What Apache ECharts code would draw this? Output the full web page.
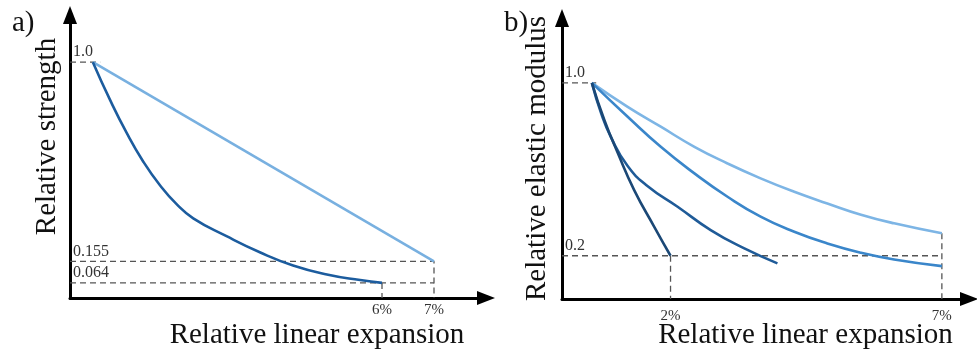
<!DOCTYPE html>
<html>
<head>
<meta charset="utf-8">
<script src="https://cdn.jsdelivr.net/npm/echarts@6/dist/echarts.min.js"></script>
<style>
  html, body { margin: 0; padding: 0; background: #fff; }
  #chart { width: 977px; height: 354px; }
</style>
</head>
<body>
<div id="chart"></div>
<script>
// Panel a) relative strength vs. relative linear expansion (%)
const strengthLightX = [0.44, 7.0];
const strengthLightY = [1.0, 0.155];
const strengthDarkX = [0.44, 0.77, 1.09, 1.41, 1.73, 2.05, 2.37, 3.01, 3.65, 4.29, 4.94, 5.58, 6.0];
const strengthDarkY = [1.0, 0.84, 0.70, 0.578, 0.478, 0.398, 0.338, 0.262, 0.194, 0.138, 0.10, 0.076, 0.064];
const strengthTicksY = [1.0, 0.155, 0.064];
const strengthTicksX = [6, 7];

// Panel b) relative elastic modulus vs. relative linear expansion (%)
const modulus1X = [0.55, 0.78, 1.03, 1.33, 1.70, 2.0];
const modulus1Y = [1.0, 0.828, 0.674, 0.504, 0.334, 0.2];
const modulus2X = [0.55, 0.72, 0.90, 1.21, 1.58, 2.13, 2.74, 3.36, 3.97];
const modulus2Y = [1.0, 0.86, 0.75, 0.615, 0.522, 0.427, 0.319, 0.234, 0.165];
const modulus3X = [0.55, 1.21, 1.82, 2.44, 3.05, 3.66, 4.28, 4.89, 5.51, 6.12, 7.0];
const modulus3Y = [1.0, 0.843, 0.704, 0.581, 0.473, 0.381, 0.311, 0.257, 0.214, 0.183, 0.152];
const modulus4X = [0.55, 1.21, 1.82, 2.44, 3.05, 3.66, 4.28, 4.89, 5.51, 6.12, 7.0];
const modulus4Y = [1.0, 0.889, 0.797, 0.704, 0.627, 0.558, 0.496, 0.442, 0.390, 0.350, 0.304];
const modulusTicksY = [1.0, 0.2];
const modulusTicksX = [2, 7];

const SERIF = '"Liberation Serif", "DejaVu Serif", serif';
const zip = (xs, ys) => xs.map((x, i) => [x, ys[i]]);
const last = arr => arr[arr.length - 1];

function curve(xi, yi, xs, ys, color) {
  return {
    type: 'line', xAxisIndex: xi, yAxisIndex: yi,
    data: zip(xs, ys), smooth: 0.5,
    showSymbol: false, silent: true,
    lineStyle: { color: color, width: 2.6 }, z: 5
  };
}
function guide(xi, yi, pts) {
  return {
    type: 'line', xAxisIndex: xi, yAxisIndex: yi, data: pts,
    showSymbol: false, silent: true,
    lineStyle: { color: '#555', width: 1.3, type: [6, 4] }, z: 3
  };
}
function xAxisOf(gi, max, ticks, gap, shift, margin) {
  return {
    type: 'value', gridIndex: gi, min: 0, max: max,
    name: 'Relative linear expansion', nameLocation: 'middle', nameGap: gap,
    nameMoveOverlap: false,
    nameTextStyle: { fontFamily: SERIF, fontSize: 29, color: '#111', padding: [0, 0, 0, shift] },
    axisLine: { show: true, symbol: ['none', 'triangle'], symbolSize: [14, 18],
                lineStyle: { color: '#000', width: 3 } },
    axisTick: { show: false }, splitLine: { show: false },
    axisLabel: { customValues: ticks, formatter: v => v + '%', margin: margin,
                 fontFamily: SERIF, fontSize: 15, color: '#333' }
  };
}
function yAxisOf(gi, max, name, ticks, gap, shift) {
  return {
    type: 'value', gridIndex: gi, min: 0, max: max,
    name: name, nameLocation: 'middle', nameGap: gap,
    nameMoveOverlap: false,
    nameTextStyle: { fontFamily: SERIF, fontSize: 29, color: '#111', padding: [0, 0, 0, shift] },
    axisLine: { show: true, symbol: ['none', 'triangle'], symbolSize: [14, 18],
                lineStyle: { color: '#000', width: 3 } },
    axisTick: { show: false }, splitLine: { show: false },
    axisLabel: { inside: true, customValues: ticks, formatter: v => (v === 1 ? '1.0' : String(v)),
                 margin: 3, verticalAlign: 'bottom', padding: [0, 0, 2, 0],
                 fontFamily: SERIF, fontSize: 16, color: '#333' }
  };
}

const option = {
  animation: false,
  backgroundColor: '#fff',
  title: [
    { text: 'a)', left: 7, top: 4, textStyle: { fontFamily: SERIF, fontSize: 29, fontWeight: 'normal', color: '#111' } },
    { text: 'b)', left: 499, top: 4, textStyle: { fontFamily: SERIF, fontSize: 29, fontWeight: 'normal', color: '#111' } }
  ],
  grid: [
    { left: 70, top: 15, width: 416, height: 283, outerBoundsMode: 'none' },
    { left: 562, top: 18, width: 407, height: 281, outerBoundsMode: 'none' }
  ],
  xAxis: [
    xAxisOf(0, 8, strengthTicksX, 23, 78, 5),
    xAxisOf(1, 7.5, modulusTicksX, 22, 80, 10)
  ],
  yAxis: [
    yAxisOf(0, 1.2, 'Relative strength', strengthTicksY, 8, 40),
    yAxisOf(1, 1.3, 'Relative elastic modulus', modulusTicksY, 10, 0)
  ],
  series: [
    // guides, panel a
    guide(0, 0, [[0, strengthLightY[0]], [0.58, strengthLightY[0]]]),
    guide(0, 0, [[0, last(strengthLightY)], [last(strengthLightX), last(strengthLightY)], [last(strengthLightX), 0]]),
    guide(0, 0, [[0, last(strengthDarkY)], [last(strengthLightX), last(strengthDarkY)]]),
    guide(0, 0, [[last(strengthDarkX), last(strengthDarkY)], [last(strengthDarkX), 0]]),
    curve(0, 0, strengthLightX, strengthLightY, '#78b0e0'),
    curve(0, 0, strengthDarkX, strengthDarkY, '#1c5c9e'),
    // guides, panel b
    guide(1, 1, [[0, 1.0], [0.63, 1.0]]),
    guide(1, 1, [[0, last(modulus1Y)], [modulusTicksX[1], last(modulus1Y)]]),
    guide(1, 1, [[modulusTicksX[0], last(modulus1Y)], [modulusTicksX[0], 0]]),
    guide(1, 1, [[modulusTicksX[1], last(modulus4Y)], [modulusTicksX[1], 0]]),
    curve(1, 1, modulus4X, modulus4Y, '#7db5e5'),
    curve(1, 1, modulus3X, modulus3Y, '#3a86ca'),
    curve(1, 1, modulus2X, modulus2Y, '#1f5b98'),
    curve(1, 1, modulus1X, modulus1Y, '#1b4876')
  ]
};

echarts.init(document.getElementById('chart'), null, { renderer: 'canvas' }).setOption(option);
</script>
</body>
</html>
